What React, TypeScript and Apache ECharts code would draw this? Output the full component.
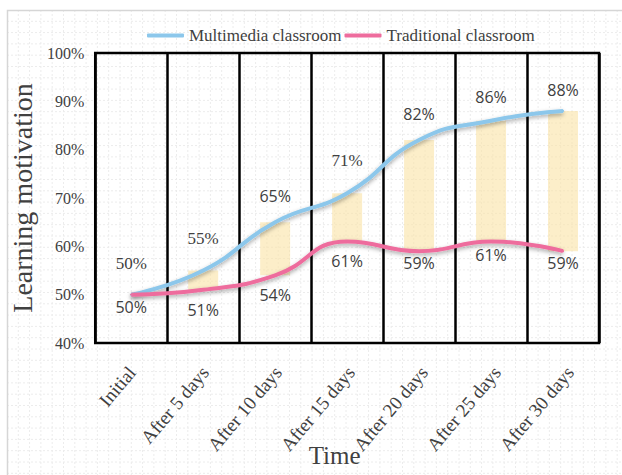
import React, { useEffect, useRef } from "react";
import * as echarts from "echarts";

const categories = [
  "Initial",
  "After 5 days",
  "After 10 days",
  "After 15 days",
  "After 20 days",
  "After 25 days",
  "After 30 days",
];
const multimedia = [50, 55, 65, 71, 82, 86, 88];
const traditional = [50, 51, 54, 61, 59, 61, 59];
const yMin = 40;
const yMax = 100;
const yInterval = 10;

// label styling per point (kept apart from the values)
const multimediaSerif = [true, true, false, true, false, false, false];
const multimediaLabelGap = [22, 23, 17, 23, 17, 15, 12];
const traditionalLabelGap = [3, 11, 11, 10, 3, 4, 3];

const SERIF = "'Liberation Serif', 'Times New Roman', serif";
const SANS = "'Open Sans', 'Noto Sans', sans-serif";
const TXT = "#404040";

const PLOT = { left: 88, top: 53, width: 511, height: 290 };

function backgroundPattern() {
  const els: any[] = [];
  const step = 11.3;
  for (let x = 7 + step; x < 622; x += step) {
    els.push({
      type: "line",
      z: -10,
      silent: true,
      shape: { x1: x, y1: 10, x2: x, y2: 475 },
      style: { stroke: "#ececec", lineWidth: 1, lineDash: [2, 2] },
    });
  }
  for (let y = 10 + step; y < 475; y += step) {
    els.push({
      type: "line",
      z: -10,
      silent: true,
      shape: { x1: 7, y1: y, x2: 622, y2: y },
      style: { stroke: "#ececec", lineWidth: 1, lineDash: [2, 2] },
    });
  }
  els.push({
    type: "rect",
    z: -9,
    silent: true,
    shape: { x: 7.5, y: 10.5, width: 700, height: 700 },
    style: { fill: "none", stroke: "#d6d6d6", lineWidth: 1.5 },
  });
  return els;
}

export default function App() {
  const ref = useRef<HTMLDivElement>(null);
  useEffect(() => {
    document.body.style.margin = "0";
    if (!ref.current) return;
    const chart = echarts.init(ref.current, null, { renderer: "svg" });
    const gap = multimedia.map((v, i) => v - traditional[i]);
    chart.setOption({
      animation: false,
      backgroundColor: "#ffffff",
      graphic: backgroundPattern(),
      legend: {
        left: 142,
        top: 22,
        icon: "roundRect",
        itemWidth: 37,
        itemHeight: 4,
        itemGap: 3,
        data: ["Multimedia classroom", "Traditional classroom"],
        textStyle: { fontFamily: SERIF, fontSize: 17, color: TXT },
      },
      grid: [
        {
          ...PLOT,
          show: true,
          borderColor: "#000",
          borderWidth: 2.5,
          backgroundColor: "transparent",
        },
        { ...PLOT, left: PLOT.left + 7.5 },
      ],
      xAxis: [
        {
          type: "category",
          gridIndex: 0,
          data: categories,
          boundaryGap: true,
          axisLine: { show: false },
          axisTick: { show: false },
          axisLabel: { show: false },
          splitLine: {
            show: true,
            interval: 0,
            lineStyle: { color: "#000", width: 2.5 },
          },
          name: "Time",
          nameLocation: "middle",
          nameGap: 100,
          nameTextStyle: {
            fontFamily: SERIF,
            fontSize: 25,
            color: TXT,
            padding: [0, 25, 0, 0],
          },
        },
        {
          type: "category",
          gridIndex: 1,
          data: categories,
          boundaryGap: true,
          axisLine: { show: false },
          axisTick: { show: false },
          splitLine: { show: false },
          axisLabel: {
            interval: 0,
            rotate: 50,
            margin: 26,
            fontFamily: SERIF,
            fontSize: 19,
            color: TXT,
          },
        },
      ],
      yAxis: [
        {
          type: "value",
          gridIndex: 0,
          min: yMin,
          max: yMax,
          interval: yInterval,
          axisLine: { show: false },
          axisTick: { show: false },
          splitLine: { show: false },
          axisLabel: {
            formatter: "{value}%",
            margin: 11,
            fontFamily: SERIF,
            fontSize: 16,
            color: TXT,
          },
          name: "Learning motivation",
          nameLocation: "middle",
          nameGap: 34,
          nameRotate: 90,
          nameTextStyle: { fontFamily: SERIF, fontSize: 28, color: TXT },
        },
        { type: "value", gridIndex: 1, show: false, min: 0, max: 1 },
      ],
      series: [
        {
          type: "bar",
          stack: "gap",
          barWidth: 30,
          silent: true,
          data: traditional,
          itemStyle: { color: "rgba(0,0,0,0)" },
          z: 1,
        },
        {
          type: "bar",
          stack: "gap",
          barWidth: 30,
          silent: true,
          data: gap,
          itemStyle: { color: "rgba(250,226,165,0.6)" },
          z: 1,
        },
        {
          name: "Multimedia classroom",
          type: "line",
          smooth: 0.5,
          symbol: "circle",
          symbolSize: 2,
          showSymbol: true,
          z: 3,
          color: "#8CC7EB",
          itemStyle: { color: "#8CC7EB" },
          lineStyle: {
            width: 4,
            color: "#8CC7EB",
            shadowColor: "rgba(0,0,0,0.35)",
            shadowBlur: 4,
            shadowOffsetY: 2,
          },
          label: {
            show: true,
            position: "top",
            formatter: "{c}%",
            color: TXT,
          },
          labelLayout: { hideOverlap: false },
          data: multimedia.map((v, i) => ({
            value: v,
            label: multimediaSerif[i]
              ? { fontFamily: SERIF, fontSize: 17, distance: multimediaLabelGap[i] }
              : { fontFamily: SANS, fontSize: 16, distance: multimediaLabelGap[i] },
          })),
        },
        {
          name: "Traditional classroom",
          type: "line",
          smooth: 0.5,
          symbol: "circle",
          symbolSize: 2,
          showSymbol: true,
          z: 3,
          color: "#EE6C9D",
          itemStyle: { color: "#EE6C9D" },
          lineStyle: {
            width: 4,
            color: "#EE6C9D",
            shadowColor: "rgba(0,0,0,0.35)",
            shadowBlur: 4,
            shadowOffsetY: 2,
          },
          label: {
            show: true,
            position: "bottom",
            formatter: "{c}%",
            color: TXT,
            fontFamily: SANS,
            fontSize: 16,
          },
          labelLayout: { hideOverlap: false },
          data: traditional.map((v, i) => ({
            value: v,
            label: { distance: traditionalLabelGap[i] },
          })),
        },
      ],
    });
    return () => chart.dispose();
  }, []);
  return <div ref={ref} style={{ width: 622, height: 475 }} />;
}
